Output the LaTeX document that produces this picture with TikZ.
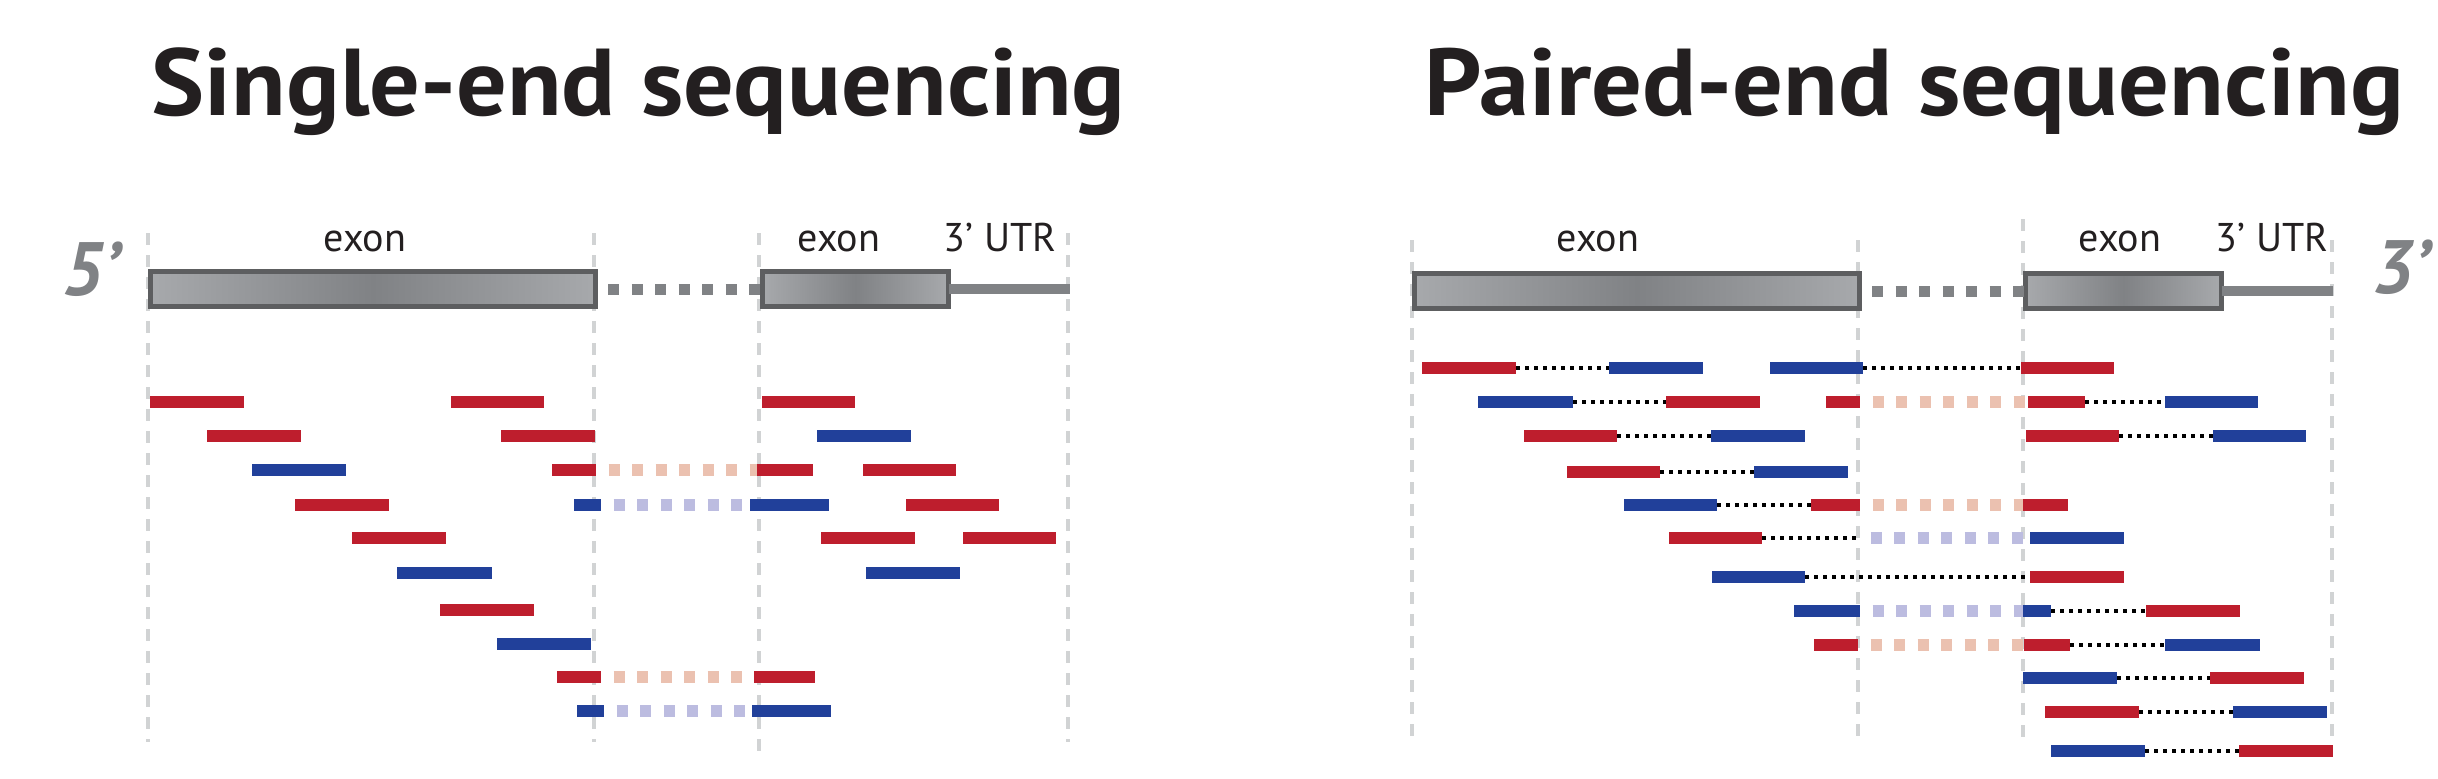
\documentclass[tikz,border=0pt]{standalone}
\usepackage{fontspec}
\setmainfont{PT Sans}
\definecolor{rd}{HTML}{BE1E2D}
\definecolor{bl}{HTML}{21409A}
\definecolor{salmon}{HTML}{EBC1B0}
\definecolor{lav}{HTML}{BCBCE0}
\definecolor{guide}{HTML}{D1D3D4}
\definecolor{boxedge}{HTML}{5D5E60}
\definecolor{boxlight}{HTML}{A7A9AC}
\definecolor{boxdark}{HTML}{808285}
\definecolor{ink}{HTML}{231F20}
\newcommand\rd[5]{\node[read, fill=#2, minimum width={(#4-#3)*0.01cm}] (#1) at (#3,#5) {};}
\begin{document}
\begin{tikzpicture}[x=0.01cm,y=-0.01cm,
  read/.style={inner sep=0pt, outer sep=0pt, minimum height=0.12cm, anchor=west},
  pair/.style={draw=black, line width=0.04cm, dash pattern=on 0.04cm off 0.05cm},
  splice/.style={draw=#1, line width=0.12cm, dash pattern=on 0.11cm off 0.125cm, dash phase=0.11cm},
  guide/.style={draw=guide, line width=0.045cm, dash pattern=on 0.12cm off 0.10cm},
  exonbox/.style={draw=boxedge, line width=0.05cm, left color=boxlight, right color=boxlight, middle color=boxdark, inner sep=0pt, outer sep=0pt, minimum height=0.35cm},
  intron/.style={draw=boxdark, line width=0.11cm, dash pattern=on 0.11cm off 0.125cm, dash phase=0.11cm},
  utr/.style={draw=boxdark, line width=0.10cm},
  lbl/.style={font=\fontsize{11.4}{13}\selectfont, text=ink, anchor=base, inner sep=0pt},
  title/.style={font=\bfseries\fontsize{27}{30}\selectfont, text=ink, anchor=base west, inner sep=0pt},
  prime/.style={font=\bfseries\itshape\fontsize{21.5}{24}\selectfont, text=boxdark, anchor=base west, inner sep=0pt}]
\useasboundingbox (0,0) rectangle (2438,778);
% titles
\node[title] (t1) at (151,115) {\scalebox{1.055}[1]{Single-end sequencing}};
\node[title] (t2) at (1424,115) {\scalebox{1.058}[1]{Paired-end sequencing}};
% guides
\foreach \x in {148,594,1068} \draw[guide] (\x,233) -- (\x,742);
\draw[guide] (759,233) -- (759,755);
\foreach \x in {1412,1858,2332} \draw[guide] (\x,240) -- (\x,745);
\draw[guide] (2023,219) -- (2023,742);
% gene models
\node[exonbox, minimum width=4.45cm] (E1) at (373,289) {};
\node[exonbox, minimum width=1.86cm] (E2) at (855.5,289) {};
\draw[intron] (E1.east) -- (E2.west);
\coordinate (U1) at (1070,289);
\draw[utr] (E2.east) -- (U1);
\node[exonbox, minimum width=4.45cm] (E3) at (1637,291) {};
\node[exonbox, minimum width=1.96cm] (E4) at (2123.5,291) {};
\draw[intron] (E3.east) -- (E4.west);
\coordinate (U2) at (2333,291);
\draw[utr] (E4.east) -- (U2);
% labels
\node[lbl] (x1) at (365,251) {exon};
\node[lbl] (x2) at (839,251) {exon};
\node[lbl] (x3) at (1000,251) {3’ UTR};
\node[lbl] (x4) at (1598,251) {exon};
\node[lbl] (x5) at (2120,251) {exon};
\node[lbl] (x6) at (2272,251) {3’ UTR};
\node[prime] (p5) at (62,295) {5’};
\node[prime] (p3) at (2372,293) {3’};
% single-end reads
\rd{l1a}{rd}{150}{244}{402}
\rd{l1b}{rd}{451}{544}{402}
\rd{l1c}{rd}{762}{855}{402}
\rd{l2a}{rd}{207}{301}{436}
\rd{l2b}{rd}{501}{595}{436}
\rd{l2c}{bl}{817}{911}{436}
\rd{l3a}{bl}{252}{346}{470}
\rd{l3b}{rd}{552}{596}{470}
\rd{l3c}{rd}{757}{813}{470}
\rd{l3d}{rd}{863}{956}{470}
\draw[splice=salmon] (l3b.east) -- (l3c.west);
\rd{l4a}{rd}{295}{389}{505}
\rd{l4b}{bl}{574}{601}{505}
\rd{l4c}{bl}{750}{829}{505}
\rd{l4d}{rd}{906}{999}{505}
\draw[splice=lav] (l4b.east) -- (l4c.west);
\rd{l5a}{rd}{352}{446}{538}
\rd{l5b}{rd}{821}{915}{538}
\rd{l5c}{rd}{963}{1056}{538}
\rd{l6a}{bl}{397}{492}{573}
\rd{l6b}{bl}{866}{960}{573}
\rd{l7a}{rd}{440}{534}{610}
\rd{l8a}{bl}{497}{591}{644}
\rd{l9a}{rd}{557}{601}{677}
\rd{l9b}{rd}{754}{815}{677}
\draw[splice=salmon] (l9a.east) -- (l9b.west);
\rd{l10a}{bl}{577}{604}{711}
\rd{l10b}{bl}{752}{831}{711}
\draw[splice=lav] (l10a.east) -- (l10b.west);
% paired-end reads
\rd{r1a}{rd}{1422}{1516}{368}
\rd{r1b}{bl}{1609}{1703}{368}
\draw[pair] (r1a.east) -- (r1b.west);
\rd{r1c}{bl}{1770}{1863}{368}
\rd{r1d}{rd}{2021}{2114}{368}
\draw[pair] (r1c.east) -- (r1d.west);
\rd{r2a}{bl}{1478}{1573}{402}
\rd{r2b}{rd}{1666}{1760}{402}
\draw[pair] (r2a.east) -- (r2b.west);
\rd{r2c}{rd}{1826}{1860}{402}
\rd{r2d}{rd}{2028}{2085}{402}
\rd{r2e}{bl}{2165}{2258}{402}
\draw[splice=salmon] (r2c.east) -- (r2d.west);
\draw[pair] (r2d.east) -- (r2e.west);
\rd{r3a}{rd}{1524}{1617}{436}
\rd{r3b}{bl}{1711}{1805}{436}
\draw[pair] (r3a.east) -- (r3b.west);
\rd{r3c}{rd}{2026}{2119}{436}
\rd{r3d}{bl}{2213}{2306}{436}
\draw[pair] (r3c.east) -- (r3d.west);
\rd{r4a}{rd}{1567}{1660}{472}
\rd{r4b}{bl}{1754}{1848}{472}
\draw[pair] (r4a.east) -- (r4b.west);
\rd{r5a}{bl}{1624}{1717}{505}
\rd{r5b}{rd}{1811}{1860}{505}
\rd{r5c}{rd}{2023}{2068}{505}
\draw[pair] (r5a.east) -- (r5b.west);
\draw[splice=salmon] (r5b.east) -- (r5c.west);
\rd{r6a}{rd}{1669}{1762}{538}
\coordinate (r6j) at (1858,538);
\rd{r6b}{bl}{2030}{2124}{538}
\draw[pair] (r6a.east) -- (r6j);
\draw[splice=lav] (r6j) -- (r6b.west);
\rd{r7a}{bl}{1712}{1805}{577}
\rd{r7b}{rd}{2030}{2124}{577}
\draw[pair] (r7a.east) -- (r7b.west);
\rd{r8a}{bl}{1794}{1860}{611}
\rd{r8b}{bl}{2023}{2051}{611}
\rd{r8c}{rd}{2146}{2240}{611}
\draw[splice=lav] (r8a.east) -- (r8b.west);
\draw[pair] (r8b.east) -- (r8c.west);
\rd{r9a}{rd}{1814}{1858}{645}
\rd{r9b}{rd}{2024}{2070}{645}
\rd{r9c}{bl}{2165}{2260}{645}
\draw[splice=salmon] (r9a.east) -- (r9b.west);
\draw[pair] (r9b.east) -- (r9c.west);
\rd{r10a}{bl}{2023}{2117}{678}
\rd{r10b}{rd}{2210}{2304}{678}
\draw[pair] (r10a.east) -- (r10b.west);
\rd{r11a}{rd}{2045}{2139}{712}
\rd{r11b}{bl}{2233}{2327}{712}
\draw[pair] (r11a.east) -- (r11b.west);
\rd{r12a}{bl}{2051}{2145}{751}
\rd{r12b}{rd}{2239}{2333}{751}
\draw[pair] (r12a.east) -- (r12b.west);
\end{tikzpicture}
\end{document}
